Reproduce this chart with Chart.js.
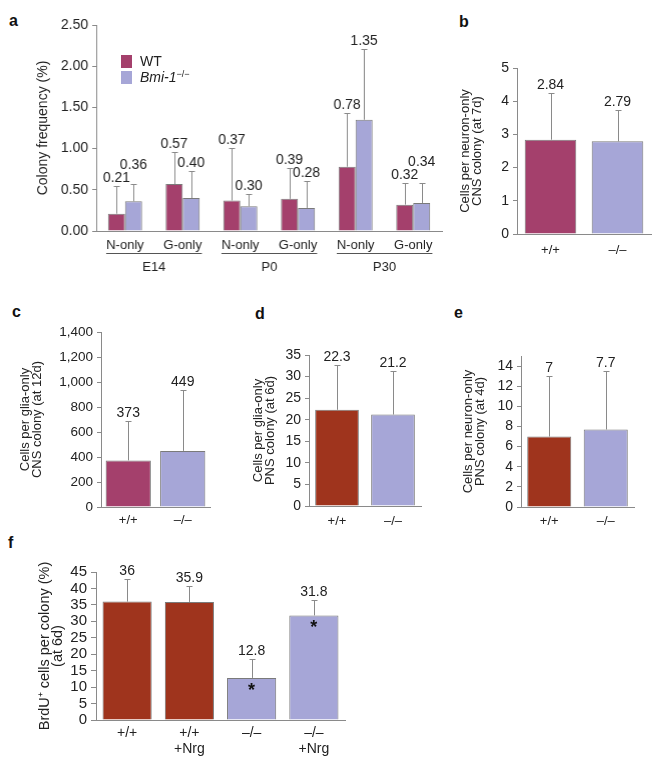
<!DOCTYPE html>
<html>
<head>
<meta charset="utf-8">
<script src="https://cdn.jsdelivr.net/npm/chart.js@4.4.1/dist/chart.umd.min.js"></script>
<style>
  body { margin: 0; width: 662px; height: 762px; position: relative; overflow: hidden; background: #fff;
         font-family: "Liberation Sans", Arial, sans-serif; color: #222; }
  canvas { position: absolute; }
  .letter { position: absolute; font-weight: bold; font-size: 16px; line-height: 16px; color: #111; }
  .legend { position: absolute; font-size: 14px; line-height: 16px; }
  .legend div { height: 16px; white-space: nowrap; }
  .sw { display: inline-block; width: 11px; height: 13px; vertical-align: -2px; margin-right: 8px; }
  .legend sup { font-size: 9px; vertical-align: 5px; line-height: 0; }
</style>
</head>
<body>

<div class="letter" style="left:9px;top:13px">a</div>
<div class="letter" style="left:459px;top:14px">b</div>
<div class="letter" style="left:12px;top:304px">c</div>
<div class="letter" style="left:255px;top:306px">d</div>
<div class="letter" style="left:454px;top:305px">e</div>
<div class="letter" style="left:8px;top:535px">f</div>

<canvas id="chartA"></canvas>
<canvas id="chartB"></canvas>
<canvas id="chartC"></canvas>
<canvas id="chartD"></canvas>
<canvas id="chartE"></canvas>
<canvas id="chartF"></canvas>

<div class="legend" style="left:121px;top:53px">
  <div><span class="sw" id="swWT"></span>WT</div>
  <div><span class="sw" id="swKO"></span><i>Bmi-1</i><sup>&minus;/&minus;</sup></div>
</div>

<script>
// ---- data ----
const aCategories = ['N-only', 'G-only', 'N-only', 'G-only', 'N-only', 'G-only'];
const aGroups = ['E14', 'P0', 'P30'];
const aWT = [0.21, 0.57, 0.37, 0.39, 0.78, 0.32];
const aWTErr = [0.55, 0.96, 1.01, 0.76, 1.43, 0.58];
const aKO = [0.36, 0.40, 0.30, 0.28, 1.35, 0.34];
const aKOErr = [0.57, 0.73, 0.45, 0.61, 2.21, 0.58];
const aTicks = [0, 0.5, 1.0, 1.5, 2.0, 2.5];

const genotypes = ['+/+', '\u2013/\u2013'];

const bValues = [2.84, 2.79];
const bErr = [4.24, 3.73];
const bTicks = [0, 1, 2, 3, 4, 5];

const cValues = [373, 449];
const cErr = [686, 936];
const cTicks = [0, 200, 400, 600, 800, 1000, 1200, 1400];

const dValues = [22.3, 21.2];
const dErr = [32.7, 31.4];
const dTicks = [0, 5, 10, 15, 20, 25, 30, 35];

const eValues = [7, 7.7];
const eErr = [13.0, 13.5];
const eTicks = [0, 2, 4, 6, 8, 10, 12, 14];

const fCategories = [['+/+'], ['+/+', '+Nrg'], ['\u2013/\u2013'], ['\u2013/\u2013', '+Nrg']];
const fValues = [36, 35.9, 12.8, 31.8];
const fErr = [42.9, 40.7, 18.5, 36.5];
const fStars = [false, false, true, true];
const fTicks = [0, 5, 10, 15, 20, 25, 30, 35, 40, 45];

// ---- colours ----
const WT_CNS = '#a4406c';
const WT_PNS = '#9f341d';
const KO = '#a6a6d7';
const AXIS = '#8a8a8a';
const TEXT = '#222';

document.getElementById('swWT').style.background = WT_CNS;
document.getElementById('swKO').style.background = KO;

Chart.defaults.font.family = '"Liberation Sans", Arial, sans-serif';
Chart.defaults.color = TEXT;

// error bars (upper only), value labels, asterisks
const barExtras = {
  id: 'barExtras',
  afterDatasetsDraw(chart, args, opts) {
    const ctx = chart.ctx;
    const y = chart.scales.y;
    const items = [];
    ctx.save();
    ctx.strokeStyle = AXIS;
    ctx.lineWidth = 1;
    chart.data.datasets.forEach((ds, di) => {
      chart.getDatasetMeta(di).data.forEach((bar, i) => {
        const top = Math.round(y.getPixelForValue(ds.errTop[i])) + 0.5;
        const x = Math.round(bar.x) + 0.5;
        ctx.beginPath();
        ctx.moveTo(x, bar.y);
        ctx.lineTo(x, top);
        ctx.moveTo(x - 3, top);
        ctx.lineTo(x + 3, top);
        ctx.stroke();
        const v = ds.data[i];
        const txt = opts.decimals != null ? v.toFixed(opts.decimals) : String(v);
        items.push({ x: bar.x, y: top - 8, txt });
        if (ds.stars && ds.stars[i]) {
          ctx.fillStyle = '#111';
          ctx.font = 'bold 18px "Liberation Sans", Arial';
          ctx.textAlign = 'center';
          ctx.textBaseline = 'alphabetic';
          ctx.fillText('*', bar.x, bar.y + 18);
        }
      });
    });
    ctx.font = (opts.size || 14) + 'px "Liberation Sans", Arial';
    ctx.fillStyle = TEXT;
    ctx.textAlign = 'center';
    ctx.textBaseline = 'middle';
    items.sort((p, q) => p.x - q.x);
    const placed = [];
    items.forEach(it => {
      it.w = ctx.measureText(it.txt).width;
      let moved = true;
      while (moved) {
        moved = false;
        for (const p of placed) {
          if (Math.abs(p.x - it.x) < (p.w + it.w) / 2 && Math.abs(p.y - it.y) < 11) {
            it.y = p.y - 13;
            moved = true;
          }
        }
      }
      placed.push(it);
      ctx.fillText(it.txt, it.x, it.y);
    });
    ctx.restore();
  }
};

// underlined group labels below the category axis
const groupLines = {
  id: 'groupLines',
  afterDraw(chart, args, opts) {
    if (!opts.groups) return;
    const ctx = chart.ctx;
    const x = chart.scales.x;
    const base = chart.chartArea.bottom;
    ctx.save();
    ctx.font = '13px "Liberation Sans", Arial';
    ctx.strokeStyle = '#555';
    ctx.lineWidth = 1;
    ctx.fillStyle = TEXT;
    ctx.textAlign = 'center';
    ctx.textBaseline = 'middle';
    opts.groups.forEach((g, k) => {
      const i0 = k * opts.size;
      const i1 = i0 + opts.size - 1;
      const left = x.getPixelForValue(i0) - ctx.measureText(chart.data.labels[i0]).width / 2;
      const right = x.getPixelForValue(i1) + ctx.measureText(chart.data.labels[i1]).width / 2;
      ctx.beginPath();
      ctx.moveTo(left, base + 22.5);
      ctx.lineTo(right, base + 22.5);
      ctx.stroke();
      ctx.fillText(g, (left + right) / 2, base + 36);
    });
    ctx.restore();
  }
};

// area = chart area [left, top, right, bottom] on the page
function barChart(id, area, cfg) {
  const el = document.getElementById(id);
  const padTop = 20, padRight = 6, padBottom = cfg.padBottom != null ? cfg.padBottom : 4;
  const left = area[0] - cfg.yw;
  const top = area[1] - padTop;
  const w = area[2] - left + padRight;
  const h = area[3] + cfg.xh + padBottom - top;
  el.style.left = left + 'px';
  el.style.top = top + 'px';
  el.width = w; el.height = h;
  el.style.width = w + 'px'; el.style.height = h + 'px';

  return new Chart(el, {
    type: 'bar',
    data: { labels: cfg.labels, datasets: cfg.datasets },
    options: {
      responsive: false,
      animation: false,
      devicePixelRatio: 1,
      layout: { padding: { top: padTop, right: padRight, bottom: padBottom, left: 0 } },
      plugins: {
        legend: { display: false },
        tooltip: { enabled: false },
        barExtras: { decimals: cfg.decimals, size: 14 },
        groupLines: cfg.groups || {}
      },
      scales: {
        x: {
          grid: { display: false, drawTicks: false },
          border: { color: AXIS },
          ticks: { color: TEXT, font: { size: cfg.xSize || 13, lineHeight: cfg.xLine || 1.23 }, padding: cfg.xPad,
                   maxRotation: 0, autoSkip: false },
          afterFit: s => { s.height = cfg.xh; }
        },
        y: {
          min: 0,
          max: cfg.max,
          afterBuildTicks: s => { s.ticks = cfg.ticks.map(v => ({ value: v })); },
          grid: { drawOnChartArea: false, color: AXIS, tickLength: cfg.tickLen || 4 },
          border: { color: AXIS },
          ticks: { color: TEXT, font: { size: cfg.tickSize || 14 }, padding: 4, autoSkip: false,
                   callback: cfg.fmt || (v => String(v)) },
          title: {
            display: true,
            text: cfg.title,
            color: TEXT,
            font: { size: cfg.titleSize || 13, lineHeight: cfg.titleLine || 0.95 },
            padding: { top: cfg.titlePad, bottom: 0 }
          },
          afterFit: s => { s.width = cfg.yw; }
        }
      }
    },
    plugins: [barExtras, groupLines]
  });
}

const barBorder = { borderColor: '#7a7a7a', borderWidth: 1 };

barChart('chartA', [96, 25, 441.5, 231], {
  yw: 96, xh: 30, xPad: 6, padBottom: 20, max: 2.5, ticks: aTicks, decimals: 2,
  fmt: v => v.toFixed(2), title: 'Colony frequency (%)', titleSize: 14, titlePad: 36,
  labels: aCategories,
  groups: { groups: aGroups, size: 2 },
  datasets: [
    { label: 'WT', data: aWT, errTop: aWTErr, backgroundColor: WT_CNS, ...barBorder, categoryPercentage: 0.59, barPercentage: 1 },
    { label: 'Bmi-1 \u2212/\u2212', data: aKO, errTop: aKOErr, backgroundColor: KO, ...barBorder, categoryPercentage: 0.59, barPercentage: 1 }
  ]
});

barChart('chartB', [517, 68, 651, 234], {
  yw: 70, xh: 30, xPad: 8, max: 5, ticks: bTicks, decimals: 2,
  title: ['Cells per neuron-only', 'CNS colony (at 7d)'], titlePad: 12,
  labels: genotypes,
  datasets: [{ data: bValues, errTop: bErr, backgroundColor: [WT_CNS, KO], ...barBorder, categoryPercentage: 1, barPercentage: 0.77 }]
});

barChart('chartC', [101, 332, 210, 507], {
  yw: 101, xh: 28, xPad: 5, max: 1400, ticks: cTicks,
  fmt: v => v.toLocaleString('en-US'), tickSize: 13.5,
  title: ['Cells per glia-only', 'CNS colony (at 12d)'], titlePad: 19,
  labels: genotypes,
  datasets: [{ data: cValues, errTop: cErr, backgroundColor: [WT_CNS, KO], ...barBorder, categoryPercentage: 1, barPercentage: 0.83 }]
});

barChart('chartD', [309, 355, 421, 506], {
  yw: 81, xh: 28, xPad: 7, max: 35, ticks: dTicks,
  title: ['Cells per glia-only', 'PNS colony (at 6d)'], titlePad: 24,
  labels: genotypes,
  datasets: [{ data: dValues, errTop: dErr, backgroundColor: [WT_PNS, KO], ...barBorder, categoryPercentage: 1, barPercentage: 0.78 }]
});

barChart('chartE', [521, 356, 634, 507], {
  yw: 74, xh: 28, xPad: 6, max: 15, ticks: eTicks,
  title: ['Cells per neuron-only', 'PNS colony (at 4d)'], titlePad: 15,
  labels: genotypes,
  datasets: [{ data: eValues, errTop: eErr, backgroundColor: [WT_PNS, KO], ...barBorder, categoryPercentage: 1, barPercentage: 0.78 }]
});

barChart('chartF', [96, 572, 345, 720], {
  yw: 96, xh: 42, xPad: 5, padBottom: 0, max: 45, ticks: fTicks, tickSize: 15, tickLen: 5,
  xSize: 14, xLine: 1.15,
  title: ['BrdU\u207A cells per colony (%)', '(at 6d)'], titleSize: 14.5, titleLine: 0.9, titlePad: 38,
  labels: fCategories,
  datasets: [{ data: fValues, errTop: fErr, stars: fStars, backgroundColor: [WT_PNS, WT_PNS, KO, KO], ...barBorder, categoryPercentage: 1, barPercentage: 0.79 }]
});
</script>
</body>
</html>
